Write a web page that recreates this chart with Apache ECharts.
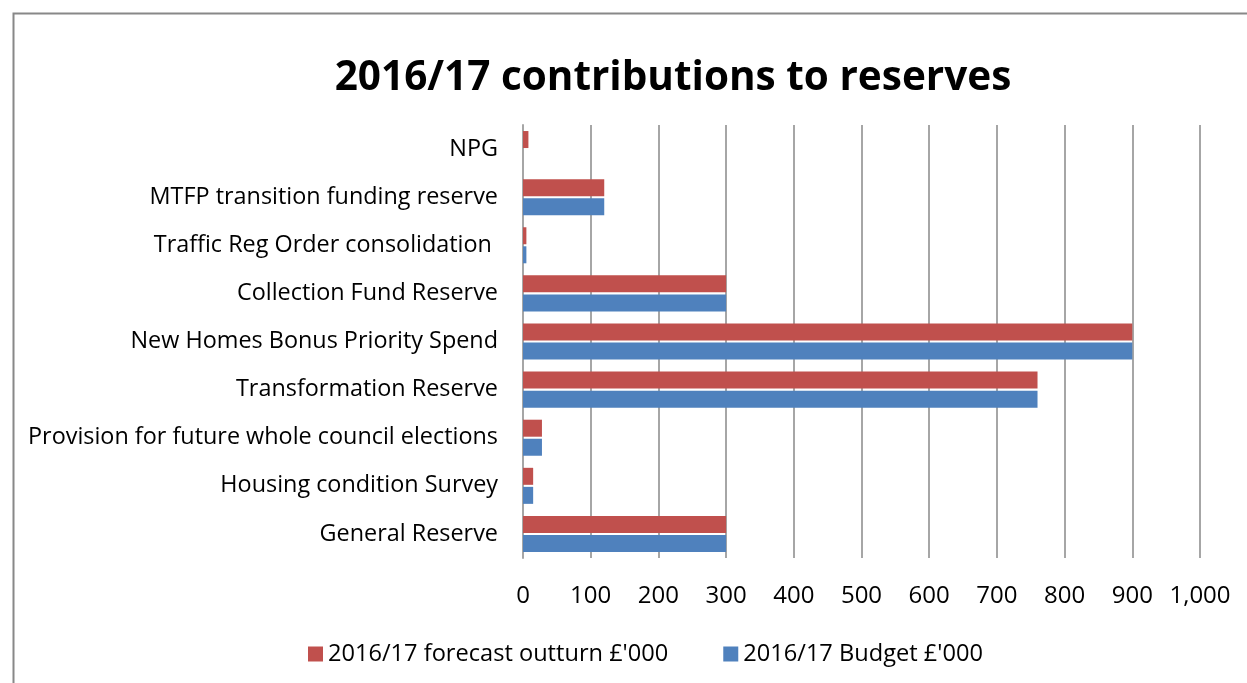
<!DOCTYPE html>
<html><head><meta charset="utf-8">
<script src="https://cdn.jsdelivr.net/npm/echarts@6/dist/echarts.min.js"></script>
<style>html,body{margin:0;padding:0;background:#fff}#c{width:1247px;height:683px}</style>
</head><body><div id="c"></div>
<script>
const categories = ["General Reserve","Housing condition Survey","Provision for future whole council elections","Transformation Reserve","New Homes Bonus Priority Spend","Collection Fund Reserve","Traffic Reg Order consolidation ","MTFP transition funding reserve","NPG"];
const forecast = [300,15,28,760,900,300,5,120,8];
const budget = [300,15,28,760,900,300,5,120,null];
const xTicks = [0,100,200,300,400,500,600,700,800,900,1000];
const chart = echarts.init(document.getElementById('c'));
const F = '"Open Sans", sans-serif';
chart.setOption({
  animation:false,
  title:{text:'2016/17 contributions to reserves',left:668,top:53,textAlign:'center',textStyle:{fontFamily:F,fontSize:40.5,fontWeight:'bold',color:'#000'}},
  graphic:[{type:'rect',shape:{x:13.5,y:13.5,width:1260,height:700},style:{fill:'none',stroke:'#888',lineWidth:2}}],
  legend:{data:["2016/17 forecast outturn £'000","2016/17 Budget £'000"],top:637,left:303,itemWidth:15,itemHeight:15,itemGap:55,icon:'rect',textStyle:{fontFamily:F,fontSize:23.6,color:'#000'}},
  grid:{left:523,right:47,top:125,bottom:125},
  xAxis:{type:'value',min:0,max:1000,interval:100,axisLine:{show:false},axisTick:{show:false},
    splitLine:{lineStyle:{color:'#a6a6a6',width:2}},
    axisLabel:{fontFamily:F,fontSize:24,color:'#000',margin:26,formatter:v=>xTicks.includes(v)?v.toLocaleString('en-US'):''}},
  yAxis:{type:'category',data:categories,axisTick:{show:false},axisLine:{lineStyle:{color:'#a6a6a6',width:2}},
    axisLabel:{fontFamily:F,fontSize:23.4,color:'#000',margin:25}},
  series:[
    {name:"2016/17 forecast outturn £'000",type:'bar',data:forecast,barWidth:17,barGap:'12%',itemStyle:{color:'#c0504d'}},
    {name:"2016/17 Budget £'000",type:'bar',data:budget,barWidth:17,barGap:'12%',itemStyle:{color:'#4f81bd'}}
  ]
});
</script></body></html>
